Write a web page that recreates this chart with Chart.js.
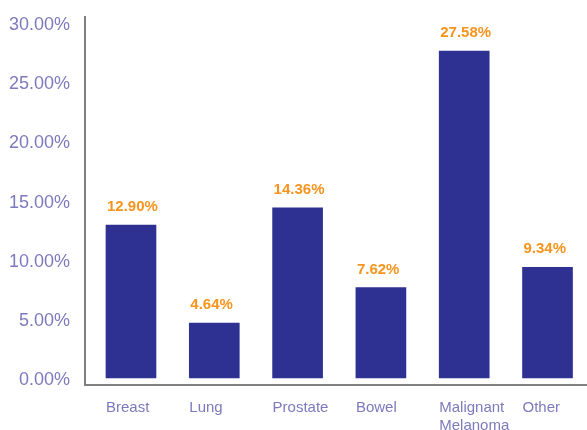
<!DOCTYPE html>
<html>
<head>
<meta charset="utf-8">
<script src="https://cdn.jsdelivr.net/npm/chart.js@4/dist/chart.umd.min.js"></script>
<style>
html,body{margin:0;padding:0;background:#fff;}
#wrap{width:587px;height:430px;position:relative;}
</style>
</head>
<body>
<div id="wrap"><canvas id="c"></canvas></div>
<script>
const categories = [["Breast"], ["Lung"], ["Prostate"], ["Bowel"], ["Malignant", "Melanoma"], ["Other"]];
const values = [12.90, 4.64, 14.36, 7.62, 27.58, 9.34];
const yTicks = [0, 5, 10, 15, 20, 25, 30];

const points = values.map((v, i) => ({x: i, y: v}));
const halfBar = 0.3;

const valueLabels = {
  id: 'valueLabels',
  afterDatasetsDraw(chart) {
    const ctx = chart.ctx;
    const meta = chart.getDatasetMeta(0);
    ctx.save();
    ctx.font = 'bold 15px "Liberation Sans", Arial, sans-serif';
    ctx.fillStyle = '#f7941d';
    ctx.textAlign = 'left';
    ctx.textBaseline = 'middle';
    meta.data.forEach((bar, i) => {
      const left = bar.x - bar.width / 2;
      ctx.fillText(values[i].toFixed(2) + '%', left + 1, bar.y - 18);
    });
    ctx.restore();
  }
};

new Chart(document.getElementById('c'), {
  type: 'bar',
  data: {
    datasets: [{
      data: points,
      backgroundColor: '#2e3192',
      barThickness: 50
    }]
  },
  options: {
    responsive: true,
    maintainAspectRatio: false,
    animation: false,
    layout: { padding: { top: 17, right: 0, bottom: 0, left: 0 } },
    plugins: { legend: { display: false }, tooltip: { enabled: false } },
    scales: {
      x: {
        type: 'linear',
        min: -0.552,
        max: 5.474,
        offset: false,
        afterBuildTicks(scale) {
          scale.ticks = categories.map((c, i) => ({ value: i - halfBar }));
        },
        afterFit(scale) {
          scale.height = 45;
          scale.paddingLeft = 0;
          scale.paddingRight = 0;
        },
        grid: { display: false, drawTicks: false },
        border: { display: true, color: '#808080', width: 2 },
        ticks: {
          autoSkip: false,
          maxRotation: 0,
          align: 'start',
          padding: 13,
          color: '#7d79bd',
          font: { size: 15, family: '"Liberation Sans", Arial, sans-serif', lineHeight: 1.25 },
          callback: (v) => {
            const c = categories[Math.round(v + halfBar)];
            return c ? (c.length > 1 ? c : c[0]) : '';
          }
        }
      },
      y: {
        min: -0.59,
        max: 30.46,
        afterBuildTicks(scale) {
          scale.ticks = yTicks.map(v => ({ value: v }));
        },
        afterFit(scale) {
          scale.width = 85;
          scale.paddingTop = 0;
          scale.paddingBottom = 0;
        },
        grid: { display: false, drawTicks: false },
        border: { display: true, color: '#808080', width: 2 },
        ticks: {
          padding: 15,
          labelOffset: 2.5,
          color: '#7d79bd',
          font: { size: 18, family: '"Liberation Sans", Arial, sans-serif' },
          callback: (v) => Number(v).toFixed(2) + '%'
        }
      }
    }
  },
  plugins: [valueLabels]
});
</script>
</body>
</html>
